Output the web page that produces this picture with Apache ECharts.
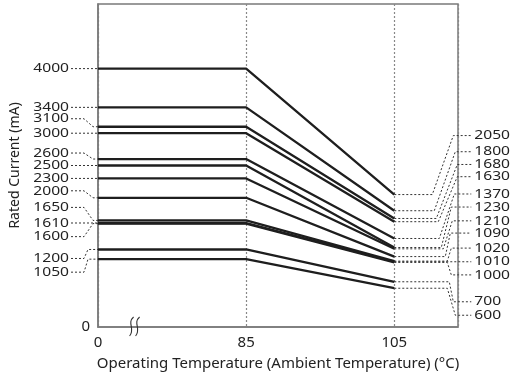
<!DOCTYPE html>
<html>
<head>
<meta charset="utf-8">
<script src="https://cdn.jsdelivr.net/npm/echarts@6/dist/echarts.min.js"></script>
<style>
  html, body { margin: 0; padding: 0; background: #fff; }
  #chart { width: 516px; height: 381px; }
</style>
</head>
<body>
<div id="chart"></div>
<script>
// temperatures (°C) where the derating curves bend
const tempTicks = [0, 85, 105]
// rated current (mA) from 0 to 85 °C, one entry per part
const currentAt85 = [4000, 3400, 3100, 3000, 2600, 2500, 2300, 2000, 1650, 1610, 1600, 1200, 1050]
// rated current (mA) at 105 °C, same order
const currentAt105 = [2050, 1800, 1680, 1630, 1370, 1230, 1210, 1090, 1020, 1010, 1000, 700, 600]

// leader label layout, in px (labels are pushed apart so they don't overlap)
const leftLabelDy = [0, 0, -8, 0, -6, 0, 0, -7, -13, 0, 13, 9, 13]
const leftKink = [0, 0, 5, 0, 5, 0, 0, 5, 5, 0, 5, 10, 10]
const rightLabelDy = [-59, -59, -54, -45, -44.5, -40.5, -28, -23.5, -13, 0, 12.5, 20, 27]
const rightKinkA = [38, 40, 42, 44, 45, 47, 49, 51, 53, 0, 53, 55, 53]
const rightKinkB = [59, 61, 63, 63, 60, 57, 58, 56, 57, 0, 57, 59, 61]

const FONT = '"Noto Sans", sans-serif'
const LINE_COLOR = '#1e1e1e'
const FRAME_COLOR = '#7a7a7a'
const LEADER_COLOR = '#333'

// broken x axis: 0-85 °C takes the same width as 85-105 °C
function toAxis(t) {
  return t <= 85 ? t / 85 : 1 + (t - 85) / 20
}

const curveSeries = currentAt85.map((v, i) => ({
  type: 'line',
  symbol: 'none',
  z: 3,
  silent: true,
  lineStyle: { color: LINE_COLOR, width: 2.3 },
  data: [
    [toAxis(tempTicks[0]), v],
    [toAxis(tempTicks[1]), v],
    [toAxis(tempTicks[2]), currentAt105[i]]
  ]
}))

function leaderStyle() {
  return { stroke: LEADER_COLOR, fill: null, lineWidth: 1, lineDash: [2, 2] }
}

function renderLeft(params, api) {
  const i = params.dataIndex
  const p = api.coord([api.value(0), api.value(1)])
  const ly = p[1] + leftLabelDy[i]
  const pts = leftLabelDy[i] === 0
    ? [[p[0] - 27, ly], [p[0], p[1]]]
    : [[p[0] - 27, ly], [p[0] - 14, ly], [p[0] - leftKink[i], p[1]], [p[0], p[1]]]
  return {
    type: 'group',
    children: [
      { type: 'polyline', shape: { points: pts }, style: leaderStyle() },
      {
        type: 'text', x: p[0] - 29, y: ly, scaleX: 1.2,
        style: { text: String(currentAt85[i]), font: '13px ' + FONT, fill: '#222', align: 'right', verticalAlign: 'middle' }
      }
    ]
  }
}

function renderRight(params, api) {
  const i = params.dataIndex
  const p = api.coord([api.value(0), api.value(1)])
  const ly = p[1] + rightLabelDy[i]
  const pts = rightLabelDy[i] === 0
    ? [[p[0], p[1]], [p[0] + 77, ly]]
    : [[p[0], p[1]], [p[0] + rightKinkA[i], p[1]], [p[0] + rightKinkB[i], ly], [p[0] + 77, ly]]
  return {
    type: 'group',
    children: [
      { type: 'polyline', shape: { points: pts }, style: leaderStyle() },
      {
        type: 'text', x: p[0] + 80, y: ly, scaleX: 1.2,
        style: { text: String(currentAt105[i]), font: '13px ' + FONT, fill: '#222', align: 'left', verticalAlign: 'middle' }
      }
    ]
  }
}

const option = {
  animation: false,
  backgroundColor: '#fff',
  grid: {
    left: 98, right: 58, top: 4, bottom: 54,
    show: true, borderColor: FRAME_COLOR, borderWidth: 1.5
  },
  xAxis: {
    type: 'value',
    min: 0,
    max: 2.43,
    interval: 1,
    name: 'Operating Temperature (Ambient Temperature) (°C)',
    nameLocation: 'middle',
    nameGap: 29,
    nameTextStyle: { fontFamily: FONT, fontSize: 15, color: '#222' },
    axisLine: { lineStyle: { color: FRAME_COLOR, width: 1.5 } },
    axisTick: { show: false },
    axisLabel: {
      margin: 8,
      fontFamily: FONT, fontSize: 15, color: '#222',
      showMaxLabel: false,
      formatter: v => (Number.isInteger(v) && v < tempTicks.length ? String(tempTicks[v]) : '')
    },
    splitLine: { show: true, lineStyle: { color: '#888', width: 1.2, type: [2, 2] } }
  },
  yAxis: {
    type: 'value',
    min: 0,
    max: 5000,
    interval: 5000,
    name: 'Rated Current (mA)',
    nameLocation: 'middle',
    nameGap: 76,
    nameTextStyle: { fontFamily: FONT, fontSize: 14, color: '#222' },
    axisLine: { show: true, lineStyle: { color: FRAME_COLOR, width: 1.5 } },
    axisTick: { show: false },
    axisLabel: {
      margin: 8,
      fontFamily: FONT, fontSize: 15, color: '#222',
      formatter: v => (v === 0 ? '0' : '')
    },
    splitLine: { show: false }
  },
  series: [
    ...curveSeries,
    {
      type: 'custom',
      clip: false,
      silent: true,
      z: 2,
      renderItem: renderLeft,
      encode: { x: 0, y: 1 },
      data: currentAt85.map((v, i) => [toAxis(tempTicks[0]), v, i])
    },
    {
      type: 'custom',
      clip: false,
      silent: true,
      z: 2,
      renderItem: renderRight,
      encode: { x: 0, y: 1 },
      data: currentAt105.map((v, i) => [toAxis(tempTicks[2]), v, i])
    }
  ]
}

const chart = echarts.init(document.getElementById('chart'))
chart.setOption(option)

// axis break symbol on the x axis between 0 and 85
const bp = chart.convertToPixel({ gridIndex: 0 }, [0.22, 0])
const breakCurve = dx => ({
  type: 'bezierCurve',
  z: 10,
  shape: {
    x1: bp[0] + dx + 3, y1: bp[1] - 10,
    cpx1: bp[0] + dx - 4, cpy1: bp[1] - 4,
    cpx2: bp[0] + dx + 5, cpy2: bp[1] + 2,
    x2: bp[0] + dx - 1, y2: bp[1] + 9
  },
  style: { stroke: '#333', lineWidth: 1.1, fill: null }
})
chart.setOption({
  graphic: [breakCurve(0), breakCurve(6)]
})
</script>
</body>
</html>
